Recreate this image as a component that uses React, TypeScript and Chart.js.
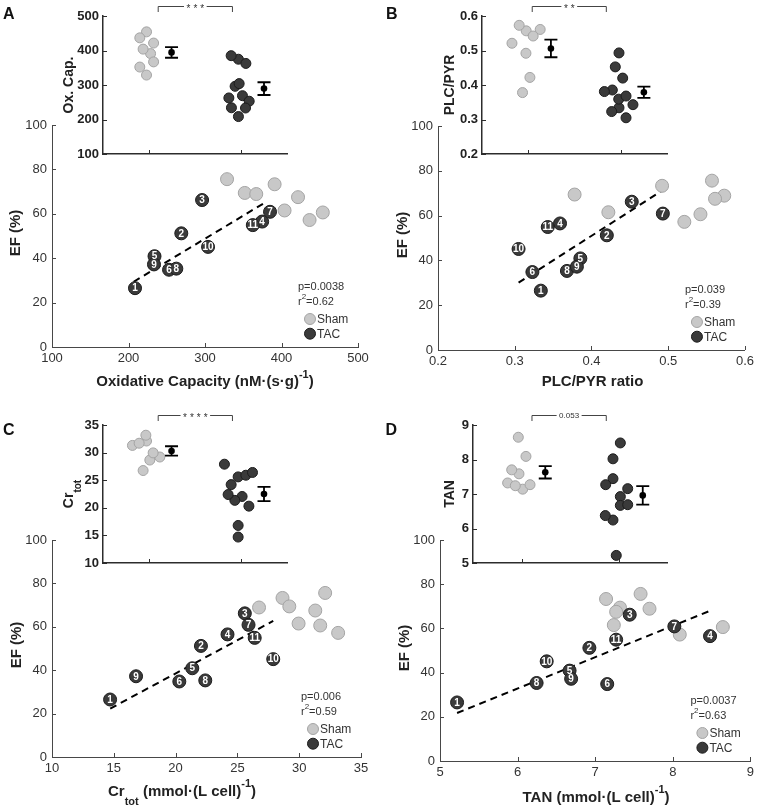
import React, { useEffect, useRef } from 'react';
import { Chart, registerables } from 'chart.js';

Chart.register(...registerables);

const W = 758;
const H = 807;
const FONT = '"Liberation Sans", Arial, Helvetica, sans-serif';
const SHAM_FILL = '#c8c8c8';
const SHAM_EDGE = '#a4a4a4';
const TAC_FILL = '#3a3a3a';
const TAC_EDGE = '#1c1c1c';
const MAIN_AXIS = '#474747';
const INSET_AXIS = '#2c2c2c';
const Y_BOX = 45;
const X_BOX = 25;

// ---- shared EF (%) values ----
const efTicks = [0, 20, 40, 60, 80, 100];
const efTickLabels = ['0', '20', '40', '60', '80', '100'];
const shamEF = [75.6, 73.3, 69.4, 68.9, 67.5, 61.5, 60.6, 57.2];
const tacEF = [26.5, 51.2, 66.2, 56.5, 40.9, 34.8, 60.9, 35.3, 37.2, 45.1, 54.9];
const tacIds = ['1', '2', '3', '4', '5', '6', '7', '8', '9', '10', '11'];
const groupPos = [1, 2];
const meanPos = [1.245, 2.25];

// ---- A: oxidative capacity ----
const oxCapTicks = [100, 200, 300, 400, 500];
const oxCapTickLabels = ['100', '200', '300', '400', '500'];
const shamOxCap = [328.8, 391, 352, 367, 421.6, 404, 454, 436.7];
const tacOxCap = [208.5, 269, 296.2, 374.7, 234, 253, 385, 262.5, 233.3, 304, 362.5];
const shamJitterOxCap = [0.973, 1.017, 0.9, 1.05, 1.05, 0.936, 0.973, 0.9];
const tacJitterOxCap = [1.972, 2.016, 1.936, 1.972, 1.896, 2.089, 1.893, 1.868, 2.049, 1.98, 2.053];
const meanOxCap = [394.5, 289.5];
const semOxCap = [15.5, 18.5];
const fitOxCap = [{ x: 206.7, y: 29.4 }, { x: 381, y: 65.6 }];

// ---- B: PLC/PYR ----
const plcTicks = [0.2, 0.3, 0.4, 0.5, 0.6];
const plcTickLabels = ['0.2', '0.3', '0.4', '0.5', '0.6'];
const shamPlc = [0.557, 0.492, 0.378, 0.573, 0.561, 0.422, 0.542, 0.521];
const tacPlc = [0.334, 0.42, 0.4525, 0.359, 0.3855, 0.323, 0.493, 0.368, 0.381, 0.305, 0.343];
const shamJitterPlc = [0.978, 0.975, 0.938, 0.902, 1.129, 1.018, 1.053, 0.824];
const tacJitterPlc = [1.981, 2.021, 1.941, 1.978, 1.909, 1.902, 1.981, 2.057, 1.823, 2.057, 2.132];
const meanPlc = [0.506, 0.379];
const semPlc = [0.0255, 0.0165];
const fitPlc = [{ x: 0.305, y: 30.1 }, { x: 0.494, y: 71.6 }];

// ---- C: Cr tot ----
const crTicks = [10, 15, 20, 25, 30, 35];
const crTickLabels = ['10', '15', '20', '25', '30', '35'];
const shamCr = [32.1, 28.65, 29.2, 26.75, 31.3, 29.95, 31.7, 33.15];
const tacCr = [14.7, 22.05, 25.6, 24.2, 21.35, 20.3, 25.9, 22.4, 16.8, 27.9, 26.4];
const shamJitterCr = [0.973, 1.009, 1.118, 0.936, 0.82, 1.045, 0.893, 0.966];
const tacJitterCr = [1.969, 2.012, 1.969, 1.893, 1.933, 2.086, 2.053, 1.86, 1.969, 1.82, 2.125];
const meanCr = [30.3, 22.5];
const semCr = [0.85, 1.3];
const fitCr = [{ x: 14.71, y: 22.3 }, { x: 27.9, y: 62.7 }];

// ---- D: TAN ----
const tanTicks = [5, 6, 7, 8, 9];
const tanTickLabels = ['5', '6', '7', '8', '9'];
const shamTan = [7.585, 7.14, 7.32, 7.7, 7.27, 7.24, 8.645, 8.09];
const tacTan = [5.22, 6.925, 7.445, 8.48, 6.67, 7.155, 8.02, 6.245, 6.69, 6.375, 7.27];
const shamJitterTan = [0.974, 1.012, 0.857, 0.899, 1.088, 0.936, 0.967, 1.046];
const tacJitterTan = [1.977, 2.019, 1.943, 2.019, 2.019, 2.095, 1.943, 1.943, 2.095, 1.864, 1.868];
const meanTan = [7.63, 6.96];
const semTan = [0.18, 0.27];
const fitTan = [{ x: 5.22, y: 21.7 }, { x: 8.474, y: 67.9 }];

type Seg = [string, number]; // 0 normal, 1 superscript, -1 subscript

function segFont(size: number, bold: boolean, kind: number) {
  const s = kind === 0 ? size : Math.round(size * 0.7);
  return `${bold ? 'bold ' : ''}${s}px ${FONT}`;
}

function drawRich(
  ctx: CanvasRenderingContext2D,
  segs: Seg[],
  x: number,
  y: number,
  size: number,
  bold: boolean,
  align: 'left' | 'center',
  rotate: boolean,
  color: string
) {
  let total = 0;
  for (const [t, k] of segs) {
    ctx.font = segFont(size, bold, k);
    total += ctx.measureText(t).width;
  }
  ctx.save();
  ctx.translate(x, y);
  if (rotate) ctx.rotate(-Math.PI / 2);
  ctx.fillStyle = color;
  ctx.textAlign = 'left';
  ctx.textBaseline = 'alphabetic';
  let cx = align === 'center' ? -total / 2 : 0;
  for (const [t, k] of segs) {
    ctx.font = segFont(size, bold, k);
    const dy = k === 1 ? -size * 0.55 : k === -1 ? size * 0.6 : 0;
    ctx.fillText(t, cx, dy);
    cx += ctx.measureText(t).width;
  }
  ctx.restore();
}

const panels = [
  {
    letter: 'A', letterXY: [3, 18.5], main: [52, 125, 358, 347], inset: [103, 16, 287, 154],
    ticks: oxCapTicks, tickLabels: oxCapTickLabels, shamX: shamOxCap, tacX: tacOxCap, fit: fitOxCap,
    pText: 'p=0.0038', r2Text: '=0.62',
    xTitle: [['Oxidative Capacity (nM·(s·g)', 0], ['-1', 1], [')', 0]] as Seg[], xTitleXY: [205, 386], yTitleXY: [15, 233],
    shamJit: shamJitterOxCap, tacJit: tacJitterOxCap, means: meanOxCap, sems: semOxCap,
    insetTitle: [['Ox. Cap.', 0]] as Seg[], insetTitleX: 68,
    bracket: [1.1, 1.907], bracketLabel: '***', bracketSize: 10,
  },
  {
    letter: 'B', letterXY: [386, 18.5], main: [438, 126, 747, 350], inset: [482, 16, 667, 154],
    ticks: plcTicks, tickLabels: plcTickLabels, shamX: shamPlc, tacX: tacPlc, fit: fitPlc,
    pText: 'p=0.039', r2Text: '=0.39',
    xTitle: [['PLC/PYR ratio', 0]] as Seg[], xTitleXY: [592.5, 386], yTitleXY: [402, 235],
    shamJit: shamJitterPlc, tacJit: tacJitterPlc, means: meanPlc, sems: semPlc,
    insetTitle: [['PLC/PYR', 0]] as Seg[], insetTitleX: 449,
    bracket: [1.043, 1.844], bracketLabel: '**', bracketSize: 10,
  },
  {
    letter: 'C', letterXY: [3, 434.5], main: [52, 540, 361, 757], inset: [103, 425, 287, 563],
    ticks: crTicks, tickLabels: crTickLabels, shamX: shamCr, tacX: tacCr, fit: fitCr,
    pText: 'p=0.006', r2Text: '=0.59',
    xTitle: [['Cr', 0], ['tot', -1], [' (mmol·(L cell)', 0], ['-1', 1], [')', 0]] as Seg[], xTitleXY: [182, 795.5], yTitleXY: [16, 645],
    shamJit: shamJitterCr, tacJit: tacJitterCr, means: meanCr, sems: semCr,
    insetTitle: [['Cr', 0], ['tot', -1]] as Seg[], insetTitleX: 68,
    bracket: [1.1, 1.907], bracketLabel: '****', bracketSize: 10,
  },
  {
    letter: 'D', letterXY: [385.5, 434.5], main: [440, 540, 752, 761], inset: [473, 425, 667, 563],
    ticks: tanTicks, tickLabels: tanTickLabels, shamX: shamTan, tacX: tacTan, fit: fitTan,
    pText: 'p=0.0037', r2Text: '=0.63',
    xTitle: [['TAN (mmol·(L cell)', 0], ['-1', 1], [')', 0]] as Seg[], xTitleXY: [596, 801.5], yTitleXY: [404, 648],
    shamJit: shamJitterTan, tacJit: tacJitterTan, means: meanTan, sems: semTan,
    insetTitle: [['TAN', 0]] as Seg[], insetTitleX: 449,
    bracket: [1.108, 1.874], bracketLabel: '0.053', bracketSize: 8,
  },
];

type PanelDef = typeof panels[number];

function circle(ctx: CanvasRenderingContext2D, x: number, y: number, r: number, fill: string, edge: string) {
  ctx.beginPath();
  ctx.arc(x, y, r, 0, Math.PI * 2);
  ctx.fillStyle = fill;
  ctx.fill();
  ctx.lineWidth = 1;
  ctx.strokeStyle = edge;
  ctx.stroke();
}

function mainPlugin(p: PanelDef) {
  return {
    id: 'mainDecor' + p.letter,
    afterDraw(chart: any) {
      const ctx: CanvasRenderingContext2D = chart.ctx;
      const ca = chart.chartArea;
      const xs = chart.scales.x;
      const ys = chart.scales.y;
      ctx.save();
      // inward ticks
      ctx.strokeStyle = MAIN_AXIS;
      ctx.lineWidth = 1;
      ctx.beginPath();
      for (const v of p.ticks) {
        const px = Math.round(xs.getPixelForValue(v)) + 0.5;
        ctx.moveTo(px, ca.bottom);
        ctx.lineTo(px, ca.bottom - 4);
      }
      for (const v of efTicks) {
        const py = Math.round(ys.getPixelForValue(v)) + 0.5;
        ctx.moveTo(ca.left, py);
        ctx.lineTo(ca.left + 4, py);
      }
      ctx.stroke();
      // numbers on TAC markers
      const meta = chart.getDatasetMeta(2);
      ctx.font = `bold 10px ${FONT}`;
      ctx.fillStyle = '#ffffff';
      ctx.textAlign = 'center';
      ctx.textBaseline = 'middle';
      meta.data.forEach((el: any, i: number) => {
        ctx.fillText(tacIds[i], el.x, el.y + 0.5);
      });
      // stats + legend block
      const pl = ca.right - 60;
      drawRich(ctx, [[p.pText, 0]], pl, ca.bottom - 61.5 + 4, 11, false, 'left', false, '#333');
      drawRich(ctx, [['r', 0], ['2', 1], [p.r2Text, 0]], pl, ca.bottom - 45.7 + 4, 11, false, 'left', false, '#333');
      const cx = pl + 12;
      const rows: [number, string, string, string][] = [
        [ca.bottom - 28, SHAM_FILL, SHAM_EDGE, 'Sham'],
        [ca.bottom - 13.3, TAC_FILL, TAC_EDGE, 'TAC'],
      ];
      for (const [cy, f, e, label] of rows) {
        circle(ctx, cx, cy, 5.5, f, e);
        drawRich(ctx, [[label, 0]], pl + 19, cy + 4.3, 12, false, 'left', false, '#333');
      }
      // axis titles
      drawRich(ctx, p.xTitle, p.xTitleXY[0], p.xTitleXY[1], 15, true, 'center', false, '#222');
      drawRich(ctx, [['EF (%)', 0]], p.yTitleXY[0] + 5.4, p.yTitleXY[1], 15, true, 'center', true, '#222');
      // panel letter
      drawRich(ctx, [[p.letter, 0]], p.letterXY[0], p.letterXY[1], 16, true, 'left', false, '#111');
      ctx.restore();
    },
  };
}

function insetPlugin(p: PanelDef) {
  return {
    id: 'insetDecor' + p.letter,
    afterDraw(chart: any) {
      const ctx: CanvasRenderingContext2D = chart.ctx;
      const ca = chart.chartArea;
      const xs = chart.scales.x;
      const ys = chart.scales.y;
      ctx.save();
      ctx.strokeStyle = INSET_AXIS;
      ctx.lineWidth = 1;
      ctx.beginPath();
      for (const v of groupPos) {
        const px = Math.round(xs.getPixelForValue(v)) + 0.5;
        ctx.moveTo(px, ca.bottom);
        ctx.lineTo(px, ca.bottom - 4);
      }
      for (const v of p.ticks) {
        const py = Math.round(ys.getPixelForValue(v)) + 0.5;
        ctx.moveTo(ca.left, py);
        ctx.lineTo(ca.left + 4, py);
      }
      ctx.stroke();
      // error bars (mean ± sem)
      ctx.strokeStyle = '#000';
      ctx.lineWidth = 1.8;
      ctx.beginPath();
      for (let i = 0; i < 2; i++) {
        const px = xs.getPixelForValue(meanPos[i]);
        const yt = ys.getPixelForValue(p.means[i] + p.sems[i]);
        const yb = ys.getPixelForValue(p.means[i] - p.sems[i]);
        ctx.moveTo(px, yt);
        ctx.lineTo(px, yb);
        ctx.moveTo(px - 6.5, yt);
        ctx.lineTo(px + 6.5, yt);
        ctx.moveTo(px - 6.5, yb);
        ctx.lineTo(px + 6.5, yb);
      }
      ctx.stroke();
      // significance bracket
      const x1 = xs.getPixelForValue(p.bracket[0]);
      const x2 = xs.getPixelForValue(p.bracket[1]);
      const yl = Math.round(ca.top - 10.5) + 0.5;
      const isStar = p.bracketLabel.indexOf('*') >= 0;
      ctx.font = `${p.bracketSize}px ${FONT}`;
      (ctx as any).letterSpacing = isStar ? '3px' : '0px';
      const tw = ctx.measureText(p.bracketLabel).width - (isStar ? 3 : 0);
      const mid = (x1 + x2) / 2;
      ctx.strokeStyle = '#444';
      ctx.lineWidth = 1;
      ctx.beginPath();
      ctx.moveTo(x1, yl + 5.5);
      ctx.lineTo(x1, yl);
      ctx.lineTo(mid - tw / 2 - 2.5, yl);
      ctx.moveTo(mid + tw / 2 + 2.5, yl);
      ctx.lineTo(x2, yl);
      ctx.lineTo(x2, yl + 5.5);
      ctx.stroke();
      ctx.fillStyle = '#333';
      ctx.textAlign = 'left';
      ctx.textBaseline = 'alphabetic';
      ctx.fillText(p.bracketLabel, mid - tw / 2, yl + (isStar ? 0.58 : 0.36) * p.bracketSize);
      (ctx as any).letterSpacing = '0px';
      // inset y title
      drawRich(ctx, p.insetTitle, p.insetTitleX + 5, (ca.top + ca.bottom) / 2, 14, true, 'center', true, '#222');
      ctx.restore();
    },
  };
}

function mainConfig(p: PanelDef): any {
  const [l, t, r, b] = p.main;
  return {
    type: 'scatter',
    data: {
      datasets: [
        {
          data: p.fit, showLine: true, borderColor: '#000', borderWidth: 2, borderDash: [7, 5],
          pointRadius: 0, fill: false, order: 3, clip: false,
        },
        {
          data: p.shamX.map((x, i) => ({ x, y: shamEF[i] })), backgroundColor: SHAM_FILL, borderColor: SHAM_EDGE,
          borderWidth: 1, pointRadius: 6.5, order: 2, clip: false,
        },
        {
          data: p.tacX.map((x, i) => ({ x, y: tacEF[i] })), backgroundColor: TAC_FILL, borderColor: TAC_EDGE,
          borderWidth: 1, pointRadius: 6.5, order: 1, clip: false,
        },
      ],
    },
    options: {
      responsive: false, maintainAspectRatio: false, animation: false, devicePixelRatio: 1, events: [],
      layout: { padding: { left: l - Y_BOX, top: t, right: W - r, bottom: H - b - X_BOX } },
      plugins: { legend: { display: false }, tooltip: { enabled: false }, title: { display: false } },
      scales: {
        x: {
          type: 'linear', min: p.ticks[0], max: p.ticks[p.ticks.length - 1],
          afterBuildTicks: (s: any) => { s.ticks = p.ticks.map((v) => ({ value: v })); },
          afterFit: (s: any) => { s.height = X_BOX; },
          ticks: {
            callback: (_v: any, i: number) => p.tickLabels[i], font: { family: FONT, size: 13 }, color: '#333',
            padding: 4, maxRotation: 0, autoSkip: false,
          },
          grid: { display: false, drawTicks: false },
          border: { display: true, color: MAIN_AXIS, width: 1 },
        },
        y: {
          type: 'linear', min: 0, max: 100,
          afterBuildTicks: (s: any) => { s.ticks = efTicks.map((v) => ({ value: v })); },
          afterFit: (s: any) => { s.width = Y_BOX; },
          ticks: {
            callback: (_v: any, i: number) => efTickLabels[i], font: { family: FONT, size: 13 }, color: '#333',
            padding: 5, autoSkip: false,
          },
          grid: { display: false, drawTicks: false },
          border: { display: true, color: MAIN_AXIS, width: 1 },
        },
      },
    },
    plugins: [mainPlugin(p)],
  };
}

function insetConfig(p: PanelDef): any {
  const [l, t, r, b] = p.inset;
  return {
    type: 'scatter',
    data: {
      datasets: [
        {
          data: p.shamX.map((v, i) => ({ x: p.shamJit[i], y: v })), backgroundColor: SHAM_FILL, borderColor: SHAM_EDGE,
          borderWidth: 1, pointRadius: 5, order: 3, clip: false,
        },
        {
          data: p.tacX.map((v, i) => ({ x: p.tacJit[i], y: v })), backgroundColor: TAC_FILL, borderColor: TAC_EDGE,
          borderWidth: 1, pointRadius: 5, order: 2, clip: false,
        },
        {
          data: p.means.map((v, i) => ({ x: meanPos[i], y: v })), backgroundColor: '#000', borderColor: '#000',
          borderWidth: 0, pointRadius: 3.3, order: 1, clip: false,
        },
      ],
    },
    options: {
      responsive: false, maintainAspectRatio: false, animation: false, devicePixelRatio: 1, events: [],
      layout: { padding: { left: l - Y_BOX, top: t, right: W - r, bottom: H - b - X_BOX } },
      plugins: { legend: { display: false }, tooltip: { enabled: false }, title: { display: false } },
      scales: {
        x: {
          type: 'linear', min: 0.5, max: 2.5,
          afterBuildTicks: (s: any) => { s.ticks = groupPos.map((v) => ({ value: v })); },
          afterFit: (s: any) => { s.height = X_BOX; },
          ticks: { display: false },
          grid: { display: false, drawTicks: false },
          border: { display: true, color: INSET_AXIS, width: 1.5 },
        },
        y: {
          type: 'linear', min: p.ticks[0], max: p.ticks[p.ticks.length - 1],
          afterBuildTicks: (s: any) => { s.ticks = p.ticks.map((v) => ({ value: v })); },
          afterFit: (s: any) => { s.width = Y_BOX; },
          ticks: {
            callback: (_v: any, i: number) => p.tickLabels[i], font: { family: FONT, size: 13, weight: 'bold' },
            color: '#222', padding: 4, autoSkip: false,
          },
          grid: { display: false, drawTicks: false },
          border: { display: true, color: INSET_AXIS, width: 1.5 },
        },
      },
    },
    plugins: [insetPlugin(p)],
  };
}

export default function App() {
  const refs = useRef<(HTMLCanvasElement | null)[]>([]);
  useEffect(() => {
    const charts: Chart[] = [];
    const configs = [...panels.map(mainConfig), ...panels.map(insetConfig)];
    configs.forEach((cfg, i) => {
      const c = refs.current[i];
      if (c) charts.push(new Chart(c, cfg));
    });
    return () => {
      charts.forEach((c) => c.destroy());
    };
  }, []);
  return (
    <div style={{ position: 'absolute', left: 0, top: 0, width: W, height: H, background: '#ffffff' }}>
      {Array.from({ length: 8 }).map((_, i) => (
        <canvas
          key={i}
          ref={(el) => { refs.current[i] = el; }}
          width={W}
          height={H}
          style={{ position: 'absolute', left: 0, top: 0, width: W, height: H }}
        />
      ))}
    </div>
  );
}
